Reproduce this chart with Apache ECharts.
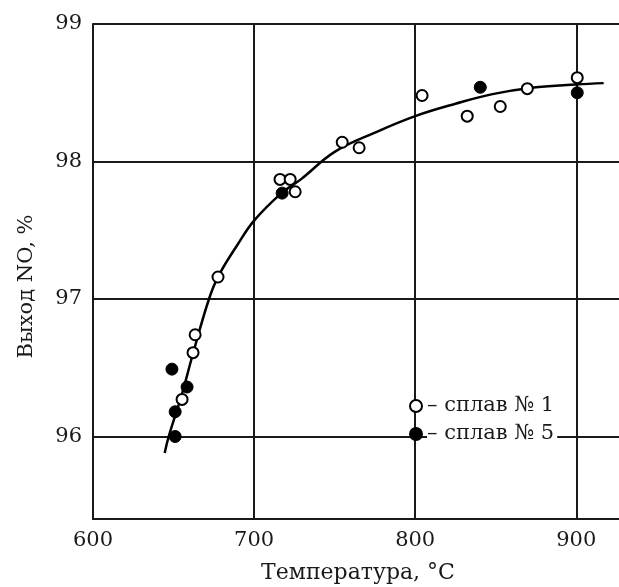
<!DOCTYPE html>
<html>
<head>
<meta charset="UTF-8">
<title>Выход NO</title>
<script src="https://cdn.jsdelivr.net/npm/echarts@6/dist/echarts.min.js"></script>
<style>
  html, body { margin: 0; padding: 0; background: #fff; }
  #main { width: 619px; height: 587px; }
</style>
</head>
<body>
<div id="main"></div>
<script>
// сплав № 1 (светлые точки)
var alloy1T = [677.6, 716.1, 722.4, 725.5, 754.7, 765.2, 804.3, 832.3, 852.8, 869.6, 900.6, 663.4, 662.1, 655.3];
var alloy1Y = [97.16, 97.87, 97.87, 97.78, 98.14, 98.10, 98.48, 98.33, 98.40, 98.53, 98.61, 96.74, 96.61, 96.27];
// сплав № 5 (тёмные точки)
var alloy5T = [717.4, 840.4, 900.6, 649.0, 658.4, 651.0, 651.0];
var alloy5Y = [97.77, 98.54, 98.50, 96.49, 96.36, 96.18, 96.00];
// сглаживающая кривая
var curveT = [644.5, 647, 655, 662, 672, 678, 690, 700, 717, 729, 750, 775, 800, 825, 848, 875, 900, 917];
var curveY = [95.88, 96.0, 96.3, 96.6, 97.0, 97.17, 97.40, 97.57, 97.77, 97.87, 98.07, 98.21, 98.33, 98.42, 98.49, 98.54, 98.56, 98.57];

function zip(a, b) {
  var out = [];
  for (var i = 0; i < a.length; i++) out.push([a[i], b[i]]);
  return out;
}

var FONT = '"DejaVu Serif", "Liberation Serif", serif';
var INK = '#1a1a1a';

var chart = echarts.init(document.getElementById('main'));
var option = {
  backgroundColor: '#fff',
  animation: false,
  grid: { left: 93, top: 24, right: -4, bottom: 68, outerBoundsMode: 'none', containLabel: false },
  legend: {
    orient: 'vertical',
    left: 409,
    top: 395,
    padding: 0,
    itemWidth: 12,
    itemHeight: 12,
    itemGap: 6,
    data: ['сплав № 1', 'сплав № 5'],
    formatter: function (name) { return '– ' + name; },
    textStyle: {
      fontFamily: FONT, fontSize: 21, color: INK, lineHeight: 22,
      backgroundColor: '#fff', padding: [0, 3, 0, 0]
    }
  },
  xAxis: {
    type: 'value',
    min: 600,
    max: 929,
    interval: 100,
    name: 'Температура, °C',
    nameLocation: 'middle',
    nameGap: 43,
    nameTextStyle: { fontFamily: FONT, fontSize: 22, color: INK },
    axisLine: { lineStyle: { color: INK, width: 2 } },
    axisTick: { show: false },
    axisLabel: {
      margin: 11, fontFamily: FONT, fontSize: 21, color: INK,
      formatter: function (v) { return v % 100 === 0 ? String(v) : ''; }
    },
    splitLine: { show: true, lineStyle: { color: INK, width: 2 } }
  },
  yAxis: {
    type: 'value',
    min: 95.4,
    max: 99,
    splitNumber: 4,
    name: 'Выход NO, %',
    nameLocation: 'middle',
    nameGap: 56,
    nameTextStyle: { fontFamily: FONT, fontSize: 21, color: INK, padding: [0, 30, 0, 0] },
    axisLine: { show: true, lineStyle: { color: INK, width: 2 } },
    axisTick: { show: false },
    axisLabel: {
      margin: 11, fontFamily: FONT, fontSize: 21, color: INK,
      formatter: function (v) { return Math.abs(v - Math.round(v)) < 1e-6 ? String(Math.round(v)) : ''; }
    },
    splitLine: { show: true, lineStyle: { color: INK, width: 2 } }
  },
  series: [
    {
      name: 'кривая',
      type: 'line',
      data: zip(curveT, curveY),
      smooth: 0.4,
      showSymbol: false,
      lineStyle: { color: '#000', width: 2.5 },
      z: 2
    },
    {
      name: 'сплав № 1',
      type: 'scatter',
      data: zip(alloy1T, alloy1Y),
      symbol: 'circle',
      symbolSize: 11,
      itemStyle: { color: '#fff', borderColor: '#000', borderWidth: 2, opacity: 1 },
      z: 3
    },
    {
      name: 'сплав № 5',
      type: 'scatter',
      data: zip(alloy5T, alloy5Y),
      symbol: 'circle',
      symbolSize: 12,
      itemStyle: { color: '#000', borderColor: '#000', borderWidth: 1, opacity: 1 },
      z: 4
    }
  ]
};
chart.setOption(option);
</script>
</body>
</html>
